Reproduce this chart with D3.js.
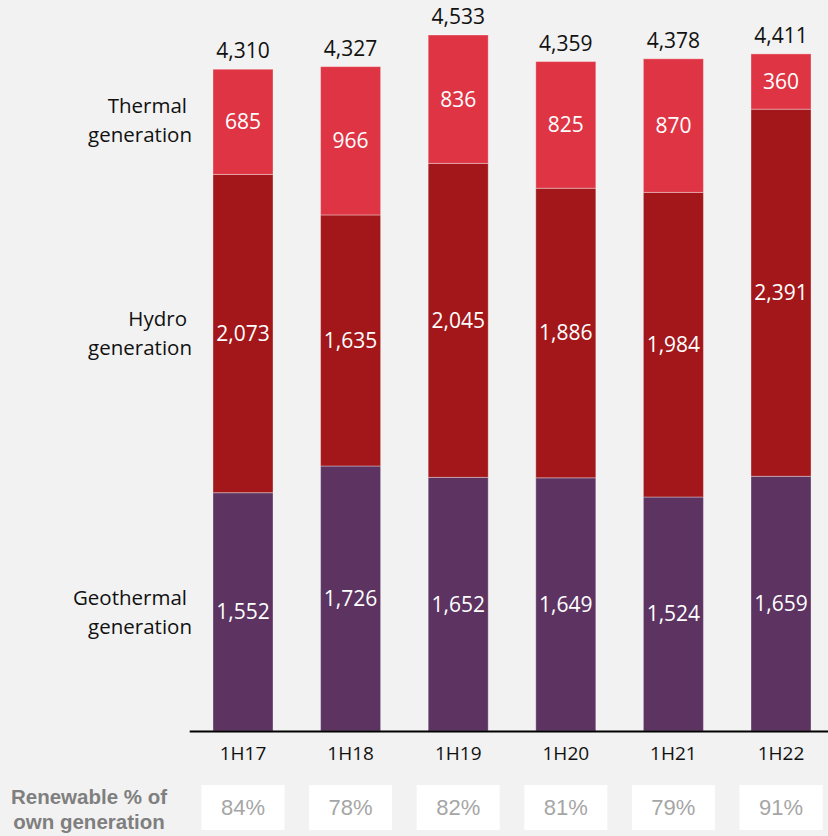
<!DOCTYPE html>
<html>
<head>
<meta charset="utf-8">
<script src="https://cdn.jsdelivr.net/npm/d3@7"></script>
<style>
    body { margin: 0; background: #f2f2f2; }
    svg { display: block; }
</style>
</head>
<body>
<div id="chart"></div>
<script>
var periods = ['1H17', '1H18', '1H19', '1H20', '1H21', '1H22'];
var geothermal = [1552, 1726, 1652, 1649, 1524, 1659];
var hydro = [2073, 1635, 2045, 1886, 1984, 2391];
var thermal = [685, 966, 836, 825, 870, 360];
var totals = [4310, 4327, 4533, 4359, 4378, 4411];
var renewablePct = ['84%', '78%', '82%', '81%', '79%', '91%'];
var seriesNames = [['Geothermal', 'generation'], ['Hydro', 'generation'], ['Thermal', 'generation']];

var width = 828, height = 836;
var colors = ['#5c3361', '#a3171a', '#df3443'];
var font = '"Open Sans", "Noto Sans", sans-serif';

var rows = periods.map(function(p, i) {
    return { period: p, geo: geothermal[i], hydro: hydro[i], thermal: thermal[i] };
});

var stack = d3.stack().keys(['geo', 'hydro', 'thermal']);
var layers = stack(rows);

var x = d3.scaleBand()
    .domain(periods)
    .range([189.2, 834.8])
    .paddingInner(0.442)
    .paddingOuter(0.221);

var y = d3.scaleLinear()
    .domain([0, 4533])
    .range([731, 35]);

var fmt = d3.format(',');

var svg = d3.select('#chart').append('svg')
    .attr('width', width)
    .attr('height', height);

svg.append('rect')
    .attr('width', width)
    .attr('height', height)
    .attr('fill', '#f2f2f2');

// stacked bars
var layer = svg.selectAll('g.layer')
    .data(layers)
    .enter()
    .append('g')
    .attr('class', 'layer')
    .attr('fill', function(d, i) { return colors[i]; });

layer.selectAll('rect')
    .data(function(d) { return d; })
    .enter()
    .append('rect')
    .attr('x', function(d) { return x(d.data.period); })
    .attr('y', function(d) { return y(d[1]); })
    .attr('width', x.bandwidth())
    .attr('height', function(d) { return y(d[0]) - y(d[1]); })
    .attr('stroke', 'rgba(255,255,255,0.35)')
    .attr('stroke-width', 1);

layer.selectAll('text')
    .data(function(d) { return d; })
    .enter()
    .append('text')
    .attr('x', function(d) { return x(d.data.period) + x.bandwidth() / 2; })
    .attr('y', function(d) { return (y(d[0]) + y(d[1])) / 2; })
    .attr('dy', '0.35em')
    .attr('text-anchor', 'middle')
    .attr('fill', '#ffffff')
    .style('font-family', font)
    .style('font-size', '21px')
    .text(function(d) { return fmt(d[1] - d[0]); });

// totals on top
svg.selectAll('text.total')
    .data(periods)
    .enter()
    .append('text')
    .attr('class', 'total')
    .attr('x', function(d) { return x(d) + x.bandwidth() / 2; })
    .attr('y', function(d, i) { return y(totals[i]) - 11; })
    .attr('text-anchor', 'middle')
    .attr('fill', '#111')
    .style('font-family', font)
    .style('font-size', '21px')
    .text(function(d, i) { return fmt(totals[i]); });

// x axis
var xAxis = d3.axisBottom(x)
    .tickSizeInner(0)
    .tickSizeOuter(0)
    .tickPadding(16);

var axisG = svg.append('g')
    .attr('transform', 'translate(0,' + y(0) + ')')
    .call(xAxis);

axisG.select('.domain')
    .attr('stroke', '#000')
    .attr('stroke-width', 2);

axisG.selectAll('text')
    .attr('fill', '#111')
    .style('font-family', font)
    .style('font-size', '19px');

// series labels on the left, next to first bar
var firstLayers = layers.map(function(l) { return l[0]; });
var nameLabels = svg.selectAll('text.series')
    .data(seriesNames)
    .enter()
    .append('text')
    .attr('class', 'series')
    .attr('text-anchor', 'end')
    .attr('fill', '#111')
    .style('font-family', font)
    .style('font-size', '20.5px')
    .attr('transform', function(d, i) {
        var l = firstLayers[i];
        var cy = (y(l[0]) + y(l[1])) / 2;
        if (i === 0) cy = 612;
        if (i === 2) cy = 120;
        return 'translate(192,' + cy + ')';
    });

nameLabels.append('tspan')
    .attr('x', -5)
    .attr('dy', '-0.35em')
    .text(function(d) { return d[0]; });

nameLabels.append('tspan')
    .attr('x', 0)
    .attr('dy', '1.4em')
    .text(function(d) { return d[1]; });

// renewable % row
var pctLabel = svg.append('text')
    .attr('text-anchor', 'middle')
    .attr('fill', '#7f7f7f')
    .style('font-family', '"Liberation Sans", Arial, sans-serif')
    .style('font-size', '20.5px')
    .style('font-weight', 'bold');

pctLabel.append('tspan').attr('x', 89).attr('y', 804).text('Renewable % of');
pctLabel.append('tspan').attr('x', 89).attr('y', 829).text('own generation');

var boxW = 83, boxH = 45;
var pctG = svg.selectAll('g.pct')
    .data(periods)
    .enter()
    .append('g')
    .attr('class', 'pct')
    .attr('transform', function(d) {
        return 'translate(' + (x(d) + x.bandwidth() / 2 - boxW / 2) + ',785)';
    });

pctG.append('rect')
    .attr('width', boxW)
    .attr('height', boxH)
    .attr('fill', '#ffffff');

pctG.append('text')
    .attr('x', boxW / 2)
    .attr('y', boxH / 2)
    .attr('dy', '0.35em')
    .attr('text-anchor', 'middle')
    .attr('fill', '#a6a6a6')
    .style('font-family', '"Liberation Sans", Arial, sans-serif')
    .style('font-size', '22px')
    .text(function(d, i) { return renewablePct[i]; });
</script>
</body>
</html>
